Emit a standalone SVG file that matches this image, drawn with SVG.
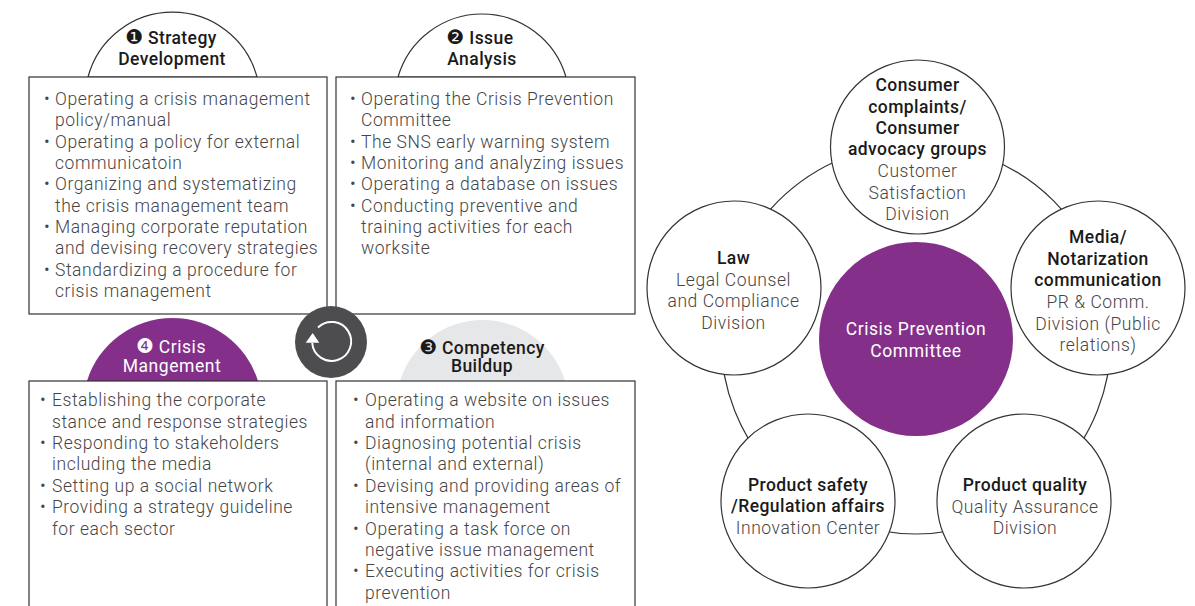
<svg xmlns="http://www.w3.org/2000/svg" width="1195" height="606" viewBox="0 0 1195 606">
<style>
text{font-family:Roboto,"DejaVu Sans",sans-serif;font-size:17.5px;letter-spacing:.55px}
.b{fill:#454547;font-weight:300}
.m{text-anchor:middle}
.h{fill:#1a1a1a;font-weight:500;font-size:17.5px;letter-spacing:.42px}
.w{fill:#fff;font-weight:400}
.n{font-family:"DejaVu Sans",sans-serif;font-size:20px;letter-spacing:0}
.box{fill:#fff;stroke:#333;stroke-width:1.2}
.c{fill:#fff;stroke:#333;stroke-width:1.2}
.arc{stroke:#333;stroke-width:1.2;fill:#fff}
</style>
<rect width="1195" height="606" fill="#fff"/>
<g id="connectors"><circle cx="916" cy="339" r="195" fill="none" stroke="#333" stroke-width="1.2"/></g>
<g id="panel1">
<path class="arc" d="M88 77A87.500 87.500 0 0 1 257 77Z"/>
<rect class="box" x="29" y="77" width="298" height="237"/>
<text class="h m" x="171" y="44"><tspan class="n">❶</tspan> Strategy</text><text class="h m" x="172" y="65">Development</text>
<g class="b"><text class="b" x="44" y="105">•</text><text class="b" x="55" y="105">Operating a crisis management</text><text class="b" x="55" y="126">policy/manual</text>
<text class="b" x="44" y="148">•</text><text class="b" x="55" y="148">Operating a policy for external</text><text class="b" x="55" y="169">communicatoin</text>
<text class="b" x="44" y="190">•</text><text class="b" x="55" y="190">Organizing and systematizing</text><text class="b" x="55" y="212">the crisis management team</text>
<text class="b" x="44" y="233">•</text><text class="b" x="55" y="233">Managing corporate reputation</text><text class="b" x="55" y="254">and devising recovery strategies</text>
<text class="b" x="44" y="276">•</text><text class="b" x="55" y="276">Standardizing a procedure for</text><text class="b" x="55" y="297">crisis management</text></g>
</g>
<g id="panel2">
<path class="arc" d="M398 77A87.500 87.500 0 0 1 566 77Z"/>
<rect class="box" x="336" y="77" width="299" height="237"/>
<text class="h m" x="480" y="44"><tspan class="n">❷</tspan> Issue</text><text class="h m" x="482" y="65">Analysis</text>
<text class="b" x="350" y="105">•</text><text class="b" x="361" y="105">Operating the Crisis Prevention</text><text class="b" x="361" y="126">Committee</text>
<text class="b" x="350" y="148">•</text><text class="b" x="361" y="148">The SNS early warning system</text>
<text class="b" x="350" y="169">•</text><text class="b" x="361" y="169">Monitoring and analyzing issues</text>
<text class="b" x="350" y="190">•</text><text class="b" x="361" y="190">Operating a database on issues</text>
<text class="b" x="350" y="212">•</text><text class="b" x="361" y="212">Conducting preventive and</text><text class="b" x="361" y="233">training activities for each</text><text class="b" x="361" y="254">worksite</text>
</g>
<g id="panel4">
<path d="M87 381A89.500 89.500 0 0 1 258 381Z" fill="#84308a"/>
<rect class="box" x="29" y="381" width="298" height="240"/>
<text class="w m" x="171" y="353"><tspan class="n">❹</tspan> Crisis</text><text class="w m" x="172" y="372">Mangement</text>
<text class="b" x="40" y="406">•</text><text class="b" x="52" y="406">Establishing the corporate</text><text class="b" x="52" y="428">stance and response strategies</text>
<text class="b" x="40" y="449">•</text><text class="b" x="52" y="449">Responding to stakeholders</text><text class="b" x="52" y="470">including the media</text>
<text class="b" x="40" y="492">•</text><text class="b" x="52" y="492">Setting up a social network</text>
<text class="b" x="40" y="513">•</text><text class="b" x="52" y="513">Providing a strategy guideline</text><text class="b" x="52" y="535">for each sector</text>
</g>
<g id="panel3">
<path d="M400 381A86.300 86.300 0 0 1 565 381Z" fill="#e6e7e8"/>
<rect class="box" x="336" y="381" width="299" height="240"/>
<text class="h m" x="482" y="354"><tspan class="n">❸</tspan> Competency</text><text class="h m" x="482" y="372">Buildup</text>
<text class="b" x="353" y="406">•</text><text class="b" x="365" y="406">Operating a website on issues</text><text class="b" x="365" y="428">and information</text>
<text class="b" x="353" y="449">•</text><text class="b" x="365" y="449">Diagnosing potential crisis</text><text class="b" x="365" y="470">(internal and external)</text>
<text class="b" x="353" y="492">•</text><text class="b" x="365" y="492">Devising and providing areas of</text><text class="b" x="365" y="513">intensive management</text>
<text class="b" x="353" y="535">•</text><text class="b" x="365" y="535">Operating a task force on</text><text class="b" x="365" y="556">negative issue management</text>
<text class="b" x="353" y="577">•</text><text class="b" x="365" y="577">Executing activities for crisis</text><text class="b" x="365" y="599">prevention</text>
</g>
<g id="cycle">
<circle cx="331" cy="342" r="36" fill="#4d4d4f"/>
<path d="M312.200 343A19.500 19.500 0 1 0 318 327.500" fill="none" stroke="#fff" stroke-width="2"/>
<path d="M305.700 342.700L312.700 333L319.300 342.700Z" fill="#fff"/>
</g>
<g id="n-top"><circle class="c" cx="917.500" cy="147" r="87"/>
<text class="h m" x="917.500" y="91">Consumer</text><text class="h m" x="917.500" y="113">complaints/</text><text class="h m" x="917.500" y="134">Consumer</text><text class="h m" x="917.500" y="155">advocacy groups</text>
<text class="b m" x="917.500" y="177">Customer</text><text class="b m" x="917.500" y="199">Satisfaction</text><text class="b m" x="917.500" y="220">Division</text></g>
<g id="n-left"><circle class="c" cx="734" cy="288" r="87"/>
<text class="h m" x="733.500" y="264">Law</text><text class="b m" x="733.500" y="286">Legal Counsel</text><text class="b m" x="733.500" y="307">and Compliance</text><text class="b m" x="733.500" y="329">Division</text></g>
<g id="n-right"><circle class="c" cx="1098" cy="288" r="87"/>
<text class="h m" x="1098" y="243">Media/</text><text class="h m" x="1098" y="265">Notarization</text><text class="h m" x="1098" y="286">communication</text>
<text class="b m" x="1098" y="308">PR &amp; Comm.</text><text class="b m" x="1098" y="330">Division (Public</text><text class="b m" x="1098" y="351">relations)</text></g>
<g id="n-bl"><circle class="c" cx="808" cy="501" r="87"/>
<text class="h m" x="808" y="491">Product safety</text><text class="h m" x="808" y="512">/Regulation affairs</text><text class="b m" x="808" y="534">Innovation Center</text></g>
<g id="n-br"><circle class="c" cx="1024" cy="501" r="87"/>
<text class="h m" x="1025" y="491">Product quality</text><text class="b m" x="1025" y="513">Quality Assurance</text><text class="b m" x="1025" y="534">Division</text></g>
<g id="n-center"><circle cx="916" cy="339" r="97" fill="#84308a"/>
<text class="w m" x="916" y="335">Crisis Prevention</text><text class="w m" x="916" y="357">Committee</text></g>
</svg>
